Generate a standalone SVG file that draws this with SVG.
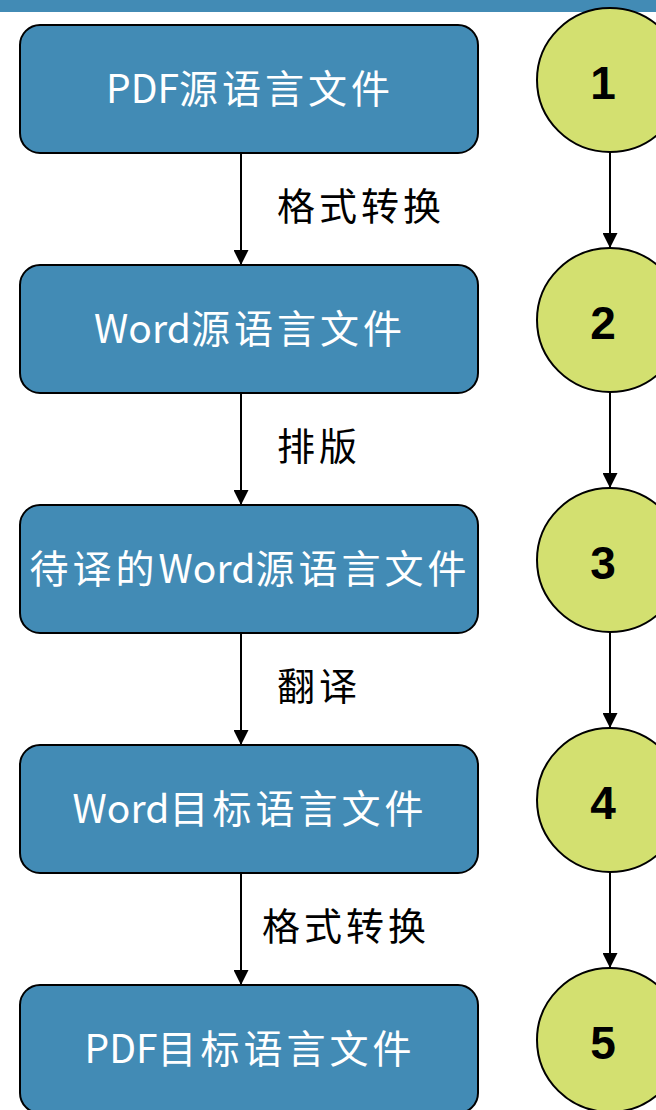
<svg xmlns="http://www.w3.org/2000/svg" width="656" height="1110" viewBox="0 0 656 1110">
<defs>
<style>
.box{fill:#428BB5;stroke:#000;stroke-width:2}
.circ{fill:#D3E070;stroke:#000;stroke-width:2}
.bt{font-family:"Noto Sans CJK SC","Noto Sans",sans-serif;font-size:39px;fill:#fff;text-anchor:middle;letter-spacing:4px}
.lat{letter-spacing:0px}
.lb{font-family:"Noto Sans CJK SC",sans-serif;font-size:38px;fill:#000;letter-spacing:4px}
.num{font-family:"Liberation Sans",Arial,sans-serif;font-weight:bold;font-size:46px;fill:#000;text-anchor:middle}
.ln{stroke:#000;stroke-width:2;fill:none;marker-end:url(#ah)}
</style>
<marker id="ah" viewBox="0 0 10 10" refX="10" refY="5" markerWidth="7.5" markerHeight="7.5" markerUnits="strokeWidth" orient="auto">
<path d="M0,0 L10,5 L0,10 Z" fill="#000"/>
</marker>
</defs>
<rect x="0" y="0" width="656" height="12" fill="#428BB5"/>
<g id="connectors">
<line class="ln" x1="241" y1="153" x2="241" y2="265"/>
<line class="ln" x1="241" y1="393" x2="241" y2="505"/>
<line class="ln" x1="241" y1="633" x2="241" y2="745"/>
<line class="ln" x1="241" y1="873" x2="241" y2="985"/>
<line class="ln" x1="610" y1="152" x2="610" y2="248"/>
<line class="ln" x1="610" y1="392" x2="610" y2="488"/>
<line class="ln" x1="610" y1="632" x2="610" y2="728"/>
<line class="ln" x1="610" y1="872" x2="610" y2="968"/>
<text class="lb" x="277" y="220">格式转换</text>
<text class="lb" x="277" y="460">排版</text>
<text class="lb" x="277" y="700">翻译</text>
<text class="lb" x="262" y="940">格式转换</text>
</g>
<g id="box1"><rect class="box" x="20" y="25" width="458" height="128" rx="20"/><text class="bt" x="250" y="103"><tspan class="lat">PDF</tspan>源语言文件</text></g>
<g id="box2"><rect class="box" x="20" y="265" width="458" height="128" rx="20"/><text class="bt" x="250" y="343"><tspan class="lat">Word</tspan>源语言文件</text></g>
<g id="box3"><rect class="box" x="20" y="505" width="458" height="128" rx="20"/><text class="bt" x="250" y="583">待译的<tspan class="lat">Word</tspan>源语言文件</text></g>
<g id="box4"><rect class="box" x="20" y="745" width="458" height="128" rx="20"/><text class="bt" x="250" y="823"><tspan class="lat">Word</tspan>目标语言文件</text></g>
<g id="box5"><rect class="box" x="20" y="985" width="458" height="128" rx="20"/><text class="bt" x="250" y="1063"><tspan class="lat">PDF</tspan>目标语言文件</text></g>
<g id="c1"><ellipse class="circ" cx="610" cy="80" rx="73" ry="72"/><text class="num" x="603" y="99">1</text></g>
<g id="c2"><ellipse class="circ" cx="610" cy="320" rx="73" ry="72"/><text class="num" x="603" y="339">2</text></g>
<g id="c3"><ellipse class="circ" cx="610" cy="560" rx="73" ry="72"/><text class="num" x="603" y="579">3</text></g>
<g id="c4"><ellipse class="circ" cx="610" cy="800" rx="73" ry="72"/><text class="num" x="603" y="819">4</text></g>
<g id="c5"><ellipse class="circ" cx="610" cy="1040" rx="73" ry="72"/><text class="num" x="603" y="1059">5</text></g>
</svg>
